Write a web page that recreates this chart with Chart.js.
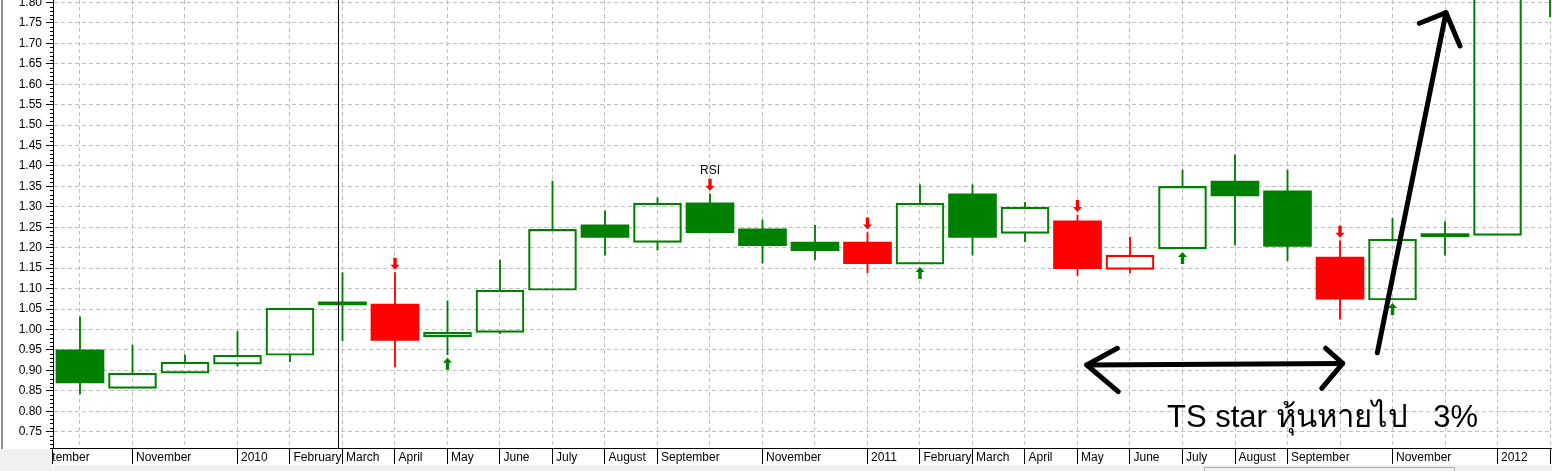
<!DOCTYPE html>
<html>
<head>
<meta charset="utf-8">
<title>TS star</title>
<script src="https://cdn.jsdelivr.net/npm/chart.js@4.4.1/dist/chart.umd.min.js"></script>
<style>
  html, body { margin: 0; padding: 0; background: #fff; overflow: hidden; }
  canvas { display: block; }
</style>
</head>
<body>
<canvas id="tsChart" width="1552" height="471"></canvas>
<script>
// x axis: month index 0 = September 2009
const tickLabels = ['September', '', 'November', '', '2010', 'February', 'March', 'April', 'May', 'June',
  'July', 'August', 'September', '', 'November', '', '2011', 'February', 'March', 'April',
  'May', 'June', 'July', 'August', 'September', '', 'November', '', '2012', 'February'];
const yTicks = [0.75, 0.80, 0.85, 0.90, 0.95, 1.00, 1.05, 1.10, 1.15, 1.20, 1.25, 1.30,
  1.35, 1.40, 1.45, 1.50, 1.55, 1.60, 1.65, 1.70, 1.75, 1.80];

// monthly candles, October 2009 .. February 2012
const opens  = [0.950, 0.856, 0.893, 0.915, 0.937, 1.062, 1.062, 0.982, 0.993, 1.096, 1.256, 1.213, 1.310, 1.246, 1.214,
  1.214, 1.160, 1.332, 1.235, 1.266, 1.147, 1.197, 1.363, 1.339, 1.177, 1.072, 1.229, 1.230, 1.950];
const highs  = [1.031, 0.962, 0.938, 0.995, 1.052, 1.139, 1.139, 1.070, 1.170, 1.363, 1.290, 1.322, 1.332, 1.268, 1.255,
  1.237, 1.354, 1.354, 1.311, 1.280, 1.226, 1.390, 1.427, 1.390, 1.217, 1.272, 1.264, 2.000, 2.200];
const lows   = [0.842, 0.856, 0.893, 0.911, 0.921, 0.972, 0.909, 0.938, 0.990, 1.096, 1.182, 1.194, 1.237, 1.162, 1.171,
  1.139, 1.160, 1.182, 1.215, 1.132, 1.139, 1.197, 1.207, 1.168, 1.025, 1.072, 1.182, 1.230, 1.765];
const closes = [0.869, 0.893, 0.920, 0.937, 1.052, 1.060, 0.973, 0.993, 1.096, 1.245, 1.225, 1.309, 1.237, 1.205, 1.193,
  1.161, 1.309, 1.225, 1.299, 1.149, 1.182, 1.350, 1.327, 1.203, 1.074, 1.221, 1.227, 1.960, 2.100];
const signals = [null, null, null, null, null, null, 'sell', 'buy', null, null, null, null, 'rsi', null, null,
  'sell', 'buy', null, null, 'sell', null, 'buy', null, null, 'sell', 'buy', null, null, null];

// hand drawn notes, in (month index, price)
const cursorMonth = 5.905;
const noteStrokes = [
  [[20.176, 0.913], [25.052, 0.917]],
  [[20.758, 0.954], [20.176, 0.913], [20.777, 0.848]],
  [[24.728, 0.954], [25.052, 0.917], [24.652, 0.856]],
  [[25.711, 0.943], [27.019, 1.775]],
  [[26.512, 1.749], [27.019, 1.775], [27.286, 1.6935]]
];
const noteText = 'TS star หุ้นหายไป   3%';
const notePos = [21.705, 0.761];

const green = '#008000';
const red = '#ff0000';
const gridGray = '#c0c0c0';
const fontFamily = "'Liberation Sans', Arial, sans-serif";
const xMin = 0.486, xMax = 29.038;
const yMin = 0.71, yMax = 1.806;

const monthAt = i => i + 1;

// colour follows the last buy / sell signal
let state = 'up';
const trend = signals.map(s => {
  if (s === 'buy') state = 'up';
  if (s === 'sell') state = 'down';
  return state;
});
const candleColor = i => trend[i] === 'up' ? green : red;
const isHollow = i => closes[i] > opens[i];

const bodies = opens.map((o, i) => ({ x: monthAt(i), y: [o, closes[i]] }));
const upperWicks = highs.map((h, i) => {
  const top = Math.max(opens[i], closes[i]);
  return { x: monthAt(i), y: h > top ? [top, h] : null };
});
const lowerWicks = lows.map((l, i) => {
  const bottom = Math.min(opens[i], closes[i]);
  return { x: monthAt(i), y: l < bottom ? [l, bottom] : null };
});

function signalArrow(ctx, x, tipY, dir, color) {
  // dir 1 = pointing down, -1 = pointing up
  ctx.beginPath();
  ctx.moveTo(x, tipY);
  ctx.lineTo(x - 4.5, tipY - 5 * dir);
  ctx.lineTo(x - 1.7, tipY - 5 * dir);
  ctx.lineTo(x - 1.7, tipY - 12 * dir);
  ctx.lineTo(x + 1.7, tipY - 12 * dir);
  ctx.lineTo(x + 1.7, tipY - 5 * dir);
  ctx.lineTo(x + 4.5, tipY - 5 * dir);
  ctx.closePath();
  ctx.fillStyle = color;
  ctx.fill();
}

const signalMarks = {
  id: 'signalMarks',
  afterDatasetsDraw(chart) {
    const { ctx, scales: { x, y } } = chart;
    ctx.save();
    signals.forEach((s, i) => {
      if (!s) return;
      const px = x.getPixelForValue(monthAt(i));
      if (s === 'buy') {
        signalArrow(ctx, px, y.getPixelForValue(lows[i]) + 3, -1, green);
      } else {
        const tip = y.getPixelForValue(highs[i]) - 3;
        signalArrow(ctx, px, tip, 1, red);
        if (s === 'rsi') {
          ctx.fillStyle = '#000';
          ctx.font = '12px ' + fontFamily;
          ctx.textAlign = 'center';
          ctx.textBaseline = 'alphabetic';
          ctx.fillText('RSI', px, tip - 17);
        }
      }
    });

    // cursor line
    const a = chart.chartArea;
    const cx = Math.round(x.getPixelForValue(cursorMonth)) + 0.5;
    ctx.strokeStyle = '#000';
    ctx.lineWidth = 1;
    ctx.beginPath();
    ctx.moveTo(cx, a.top);
    ctx.lineTo(cx, a.bottom);
    ctx.stroke();

    // notes
    ctx.lineWidth = 5;
    ctx.lineCap = 'round';
    ctx.lineJoin = 'round';
    noteStrokes.forEach(pts => {
      ctx.beginPath();
      pts.forEach(([m, v], k) => {
        const px = x.getPixelForValue(m), py = y.getPixelForValue(v);
        if (k === 0) ctx.moveTo(px, py); else ctx.lineTo(px, py);
      });
      ctx.stroke();
    });
    ctx.fillStyle = '#000';
    ctx.font = "31px 'Liberation Sans', 'Noto Sans', 'DejaVu Sans', sans-serif";
    ctx.textAlign = 'left';
    ctx.textBaseline = 'alphabetic';
    ctx.fillText(noteText, x.getPixelForValue(notePos[0]), y.getPixelForValue(notePos[1]));
    ctx.restore();
  }
};

const frame = {
  id: 'frame',
  afterDraw(chart) {
    const { ctx, chartArea: a, width, height, scales: { y } } = chart;
    ctx.save();
    ctx.fillStyle = '#f0f0f0';
    ctx.fillRect(0, a.bottom + 1, a.left - 1, height - a.bottom - 1);
    ctx.fillRect(a.left, a.bottom + 17, width - a.left, height - a.bottom - 17);
    ctx.fillStyle = '#909090';
    ctx.fillRect(1, 0, 2, a.bottom + 1);
    ctx.strokeStyle = '#000';
    ctx.lineWidth = 1;
    ctx.beginPath();
    ctx.moveTo(a.left - 0.5, a.bottom);
    ctx.lineTo(a.left - 0.5, a.bottom + 16);
    // minor ticks every 0.01
    for (let k = 71; k <= 180; k++) {
      if (k % 5 === 0) continue;
      const py = Math.round(y.getPixelForValue(k / 100)) + 0.5;
      ctx.moveTo(a.left - 3, py);
      ctx.lineTo(a.left, py);
    }
    ctx.stroke();
    ctx.strokeStyle = '#adadad';
    ctx.strokeRect(1204.5, 467.5, 250, 6);
    ctx.restore();
  }
};

const ctx = document.getElementById('tsChart').getContext('2d');

const chart = new Chart(ctx, {
  type: 'bar',
  data: {
    datasets: [
      {
        label: 'body',
        data: bodies,
        order: 0,
        grouped: false,
        barThickness: 48,
        minBarLength: 3,
        borderSkipped: false,
        backgroundColor: c => isHollow(c.dataIndex) ? 'rgba(0,0,0,0)' : candleColor(c.dataIndex),
        borderColor: c => candleColor(c.dataIndex),
        borderWidth: c => isHollow(c.dataIndex) ? 1.5 : 0,
        clip: 0
      },
      {
        label: 'upper wick',
        data: upperWicks,
        order: 1,
        grouped: false,
        barThickness: 1.2,
        borderWidth: 0,
        backgroundColor: c => candleColor(c.dataIndex),
        clip: 0
      },
      {
        label: 'lower wick',
        data: lowerWicks,
        order: 1,
        grouped: false,
        barThickness: 1.2,
        borderWidth: 0,
        backgroundColor: c => candleColor(c.dataIndex),
        clip: 0
      }
    ]
  },
  options: {
    responsive: false,
    animation: false,
    devicePixelRatio: 1,
    events: [],
    layout: { padding: 0 },
    plugins: {
      legend: { display: false },
      tooltip: { enabled: false }
    },
    scales: {
      x: {
        type: 'linear',
        min: xMin,
        max: xMax,
        offset: false,
        afterBuildTicks: s => { s.ticks = tickLabels.map((_, i) => ({ value: i })); },
        afterFit: s => { s.height = 23; s.paddingLeft = 0; s.paddingRight = 0; },
        ticks: {
          autoSkip: false,
          maxRotation: 0,
          minRotation: 0,
          align: 'start',
          labelOffset: 3.5,
          padding: -14,
          color: '#000',
          font: { family: fontFamily, size: 12 },
          callback: v => tickLabels[v] ?? ''
        },
        grid: {
          offset: false,
          color: c => c.tick && c.tick.value > xMin ? gridGray : 'rgba(0,0,0,0)',
          tickColor: c => c.tick && tickLabels[c.tick.value] ? '#000' : 'rgba(0,0,0,0)',
          tickLength: 16,
          tickBorderDash: []
        },
        border: { display: true, color: '#000', width: 1, dash: [4, 3] }
      },
      y: {
        min: yMin,
        max: yMax,
        afterBuildTicks: s => { s.ticks = yTicks.map(v => ({ value: v })); },
        afterFit: s => { s.width = 53; s.paddingTop = 0; s.paddingBottom = 0; },
        ticks: {
          padding: 4,
          color: '#000',
          font: { family: fontFamily, size: 12 },
          callback: v => v.toFixed(2)
        },
        grid: {
          color: gridGray,
          tickColor: '#000',
          tickLength: 7,
          tickBorderDash: []
        },
        border: { display: true, color: '#000', width: 1, dash: [4, 3] }
      }
    }
  },
  plugins: [signalMarks, frame]
});
</script>
</body>
</html>
